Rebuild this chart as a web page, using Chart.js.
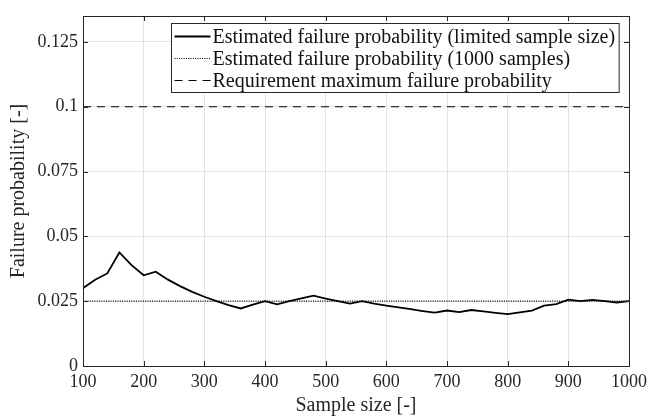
<!DOCTYPE html>
<html>
<head>
<meta charset="utf-8">
<script src="https://cdn.jsdelivr.net/npm/chart.js@4"></script>
<style>
  html, body { margin: 0; padding: 0; background: #fff; }
  #wrap { width: 652px; height: 419px; }
</style>
</head>
<body>
<div id="wrap"><canvas id="failChart" width="652" height="419"></canvas></div>
<script>
// sample sizes (x) and estimated failure probability
const sampleSizes = [100, 120, 140, 160, 180, 200, 220, 240, 260, 280,
                     300, 320, 340, 360, 380, 400, 420, 440, 460, 480,
                     500, 520, 540, 560, 580, 600, 620, 640, 660, 680,
                     700, 720, 740, 760, 780, 800, 820, 840, 860, 880,
                     900, 920, 940, 960, 980, 1000];
const estimatedProb = [0.030, 0.0333, 0.0357, 0.0438, 0.0389, 0.035, 0.0364, 0.0333, 0.0308, 0.0286,
                       0.0267, 0.025, 0.0235, 0.0222, 0.0237, 0.025, 0.0238, 0.025, 0.0261, 0.0271,
                       0.026, 0.025, 0.0241, 0.025, 0.0241, 0.0233, 0.0226, 0.0219, 0.0212, 0.0206,
                       0.0214, 0.0208, 0.0216, 0.0211, 0.0205, 0.020, 0.0207, 0.0214, 0.0233, 0.0239,
                       0.0256, 0.025, 0.0255, 0.025, 0.0245, 0.025];
const fullSampleProb = 0.025;   // 1000 samples
const requirementProb = 0.1;
const xRange = [100, 1000];
const yTicks = [0, 0.025, 0.05, 0.075, 0.1, 0.125];
const yMax = 0.135;

const serif = '"Liberation Serif", "DejaVu Serif", serif';
const axisColor = '#262626';

// MATLAB style box with inward ticks on every side
const boxTicks = {
    id: 'boxTicks',
    afterDraw(chart) {
        const { ctx, chartArea: a, scales } = chart;
        ctx.save();
        ctx.strokeStyle = axisColor;
        ctx.lineWidth = 1;
        ctx.beginPath();
        scales.x.ticks.forEach(t => {
            const px = Math.round(scales.x.getPixelForValue(t.value)) + 0.5;
            ctx.moveTo(px, a.bottom); ctx.lineTo(px, a.bottom - 5);
            ctx.moveTo(px, a.top); ctx.lineTo(px, a.top + 5);
        });
        scales.y.ticks.forEach(t => {
            const py = Math.round(scales.y.getPixelForValue(t.value)) + 0.5;
            ctx.moveTo(a.left, py); ctx.lineTo(a.left + 5, py);
            ctx.moveTo(a.right, py); ctx.lineTo(a.right - 5, py);
        });
        ctx.stroke();
        ctx.strokeRect(Math.round(a.left) + 0.5, Math.round(a.top) + 0.5,
                       Math.round(a.right - a.left), Math.round(a.bottom - a.top));
        ctx.restore();
    }
};

// boxed legend in the top right corner of the axes
const boxLegend = {
    id: 'boxLegend',
    afterDraw(chart) {
        const { ctx, chartArea: a } = chart;
        const sets = chart.data.datasets;
        ctx.save();
        ctx.font = '20px ' + serif;
        const textW = Math.max(...sets.map(d => ctx.measureText(d.label).width));
        const rowH = 21.8, sampleW = 36, pad = 3;
        const w = pad + sampleW + 2 + textW + 4;
        const h = 69;
        const x0 = Math.round(a.right - 10 - w) + 0.5;
        const y0 = Math.round(a.top + 7) + 0.5;
        ctx.fillStyle = '#fff';
        ctx.fillRect(x0, y0, w, h);
        ctx.strokeStyle = axisColor;
        ctx.lineWidth = 1;
        ctx.strokeRect(x0, y0, w, h);
        sets.forEach((d, i) => {
            const cy = Math.round(y0 + 12.5 + rowH * i) + 0.5;
            ctx.beginPath();
            ctx.strokeStyle = d.borderColor;
            ctx.lineWidth = d.borderWidth;
            ctx.setLineDash(d.borderDash || []);
            ctx.moveTo(x0 + pad, cy);
            ctx.lineTo(x0 + pad + sampleW, cy);
            ctx.stroke();
            ctx.setLineDash([]);
            ctx.fillStyle = '#111';
            ctx.textBaseline = 'middle';
            ctx.fillText(d.label, x0 + pad + sampleW + 2, cy + 1);
        });
        ctx.restore();
    }
};

const ctx = document.getElementById('failChart').getContext('2d');
const chart = new Chart(ctx, {
    type: 'line',
    data: {
        datasets: [{
            label: 'Estimated failure probability (limited sample size)',
            data: sampleSizes.map((n, i) => ({ x: n, y: estimatedProb[i] })),
            borderColor: '#000',
            borderWidth: 1.8,
            pointRadius: 0,
            tension: 0
        }, {
            label: 'Estimated failure probability (1000 samples)',
            data: xRange.map(n => ({ x: n, y: fullSampleProb })),
            borderColor: '#000',
            borderWidth: 1.2,
            borderDash: [1, 1.3],
            pointRadius: 0
        }, {
            label: 'Requirement maximum failure probability',
            data: xRange.map(n => ({ x: n, y: requirementProb })),
            borderColor: '#000',
            borderWidth: 1.2,
            borderDash: [8, 6],
            pointRadius: 0
        }]
    },
    options: {
        responsive: false,
        animation: false,
        layout: { padding: { top: 16, right: 18, left: 0, bottom: 0 } },
        plugins: { legend: { display: false }, tooltip: { enabled: false } },
        scales: {
            x: {
                type: 'linear',
                min: xRange[0],
                max: xRange[1],
                afterFit: s => { s.height = 53; },
                ticks: { stepSize: 100, color: '#262626', padding: 5, font: { family: serif, size: 18 },
                         callback: v => String(v) },
                grid: { color: '#e3e3e3', drawTicks: false },
                border: { display: false },
                title: { display: true, text: 'Sample size [-]', color: '#262626',
                         font: { family: serif, size: 20 }, padding: { top: 0, bottom: 1 } }
            },
            y: {
                type: 'linear',
                min: 0,
                max: yMax,
                afterFit: s => { s.width = 83; },
                afterBuildTicks: s => { s.ticks = yTicks.map(v => ({ value: v })); },
                ticks: { color: '#262626', padding: 5, font: { family: serif, size: 18 },
                         callback: v => String(parseFloat(v.toFixed(3))) },
                grid: { color: '#e3e3e3', drawTicks: false },
                border: { display: false },
                title: { display: true, text: 'Failure probability [-]', color: '#262626',
                         font: { family: serif, size: 20 }, padding: { top: 7, bottom: 0 } }
            }
        }
    },
    plugins: [boxTicks, boxLegend]
});
</script>
</body>
</html>
